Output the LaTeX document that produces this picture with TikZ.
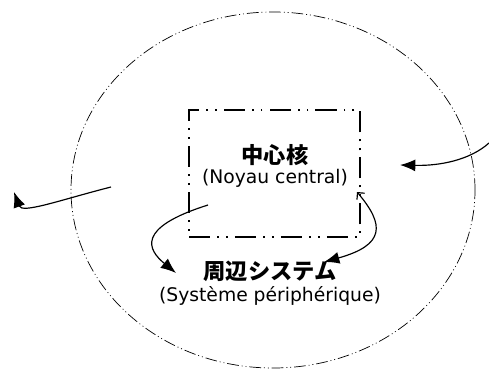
\documentclass[tikz,border=0pt]{standalone}
\usepackage{fontspec}
\setmainfont{Noto Sans CJK JP}
\newfontfamily\latinfont{DejaVu Sans}
\usetikzlibrary{arrows.meta,positioning,shapes.geometric}
\tikzset{
  ring/.style={ellipse, draw, line width=0.6pt,
               dash pattern=on 10pt off 2.5pt on 0.8pt off 2.5pt on 0.8pt off 2.5pt},
  corebox/.style={draw, line width=2.2pt, minimum width=5.13cm, minimum height=3.81cm,
               dash pattern=on 18pt off 6pt on 1.6pt off 6pt on 1.6pt off 6pt},
  jlabel/.style={font=\fontsize{19}{22}\selectfont\bfseries, inner sep=1pt},
  flabel/.style={font=\latinfont\fontsize{16}{19}\selectfont, inner sep=1pt},
  arr/.style={-{Latex[length=4.6mm, width=3.6mm]}, line width=1pt},
}
\begin{document}
\begin{tikzpicture}[x=0.03cm, y=-0.03cm]
    \useasboundingbox (0,0) rectangle (489,370);
    \node[ring, minimum width=12.12cm, minimum height=10.68cm] (system) at (273,190) {};
    \node[corebox] (core) at (274.5,173.5) {};
    \node[jlabel]                     (corejp) at (275,155) {中心核};
    \node[flabel, below=1pt of corejp] (corefr) {(Noyau central)};
    \node[jlabel]                     (perijp) at (270,271) {周辺システム};
    \node[flabel, below=2pt of perijp] (perifr) {(Système périphérique)};
    % free ends of the connectors
    \coordinate (outstart) at (111,187);
    \coordinate (outend)   at (14,192);
    \coordinate (instart)  at (489,143);
    \coordinate (inend)    at (400,165);
    \coordinate (coreout)  at (208,205);
    \coordinate (perileft) at (176,273);
    \coordinate (coreback) at (357,192);
    \coordinate (periright)at (324,262);
    \draw[arr] (outstart) .. controls (60,200) and (22,214) .. (outend);
    \draw[arr] (instart) .. controls (470,160) and (440,166) .. (inend);
    \draw[arr] (coreout) .. controls (135,228) and (148,250) .. (perileft);
    \draw[arr, {Straight Barb[length=1.5mm]}-{Latex[length=4.6mm, width=3.6mm]}]
      (coreback) .. controls (385,225) and (385,245) .. (periright);
  \end{tikzpicture}
\end{document}
